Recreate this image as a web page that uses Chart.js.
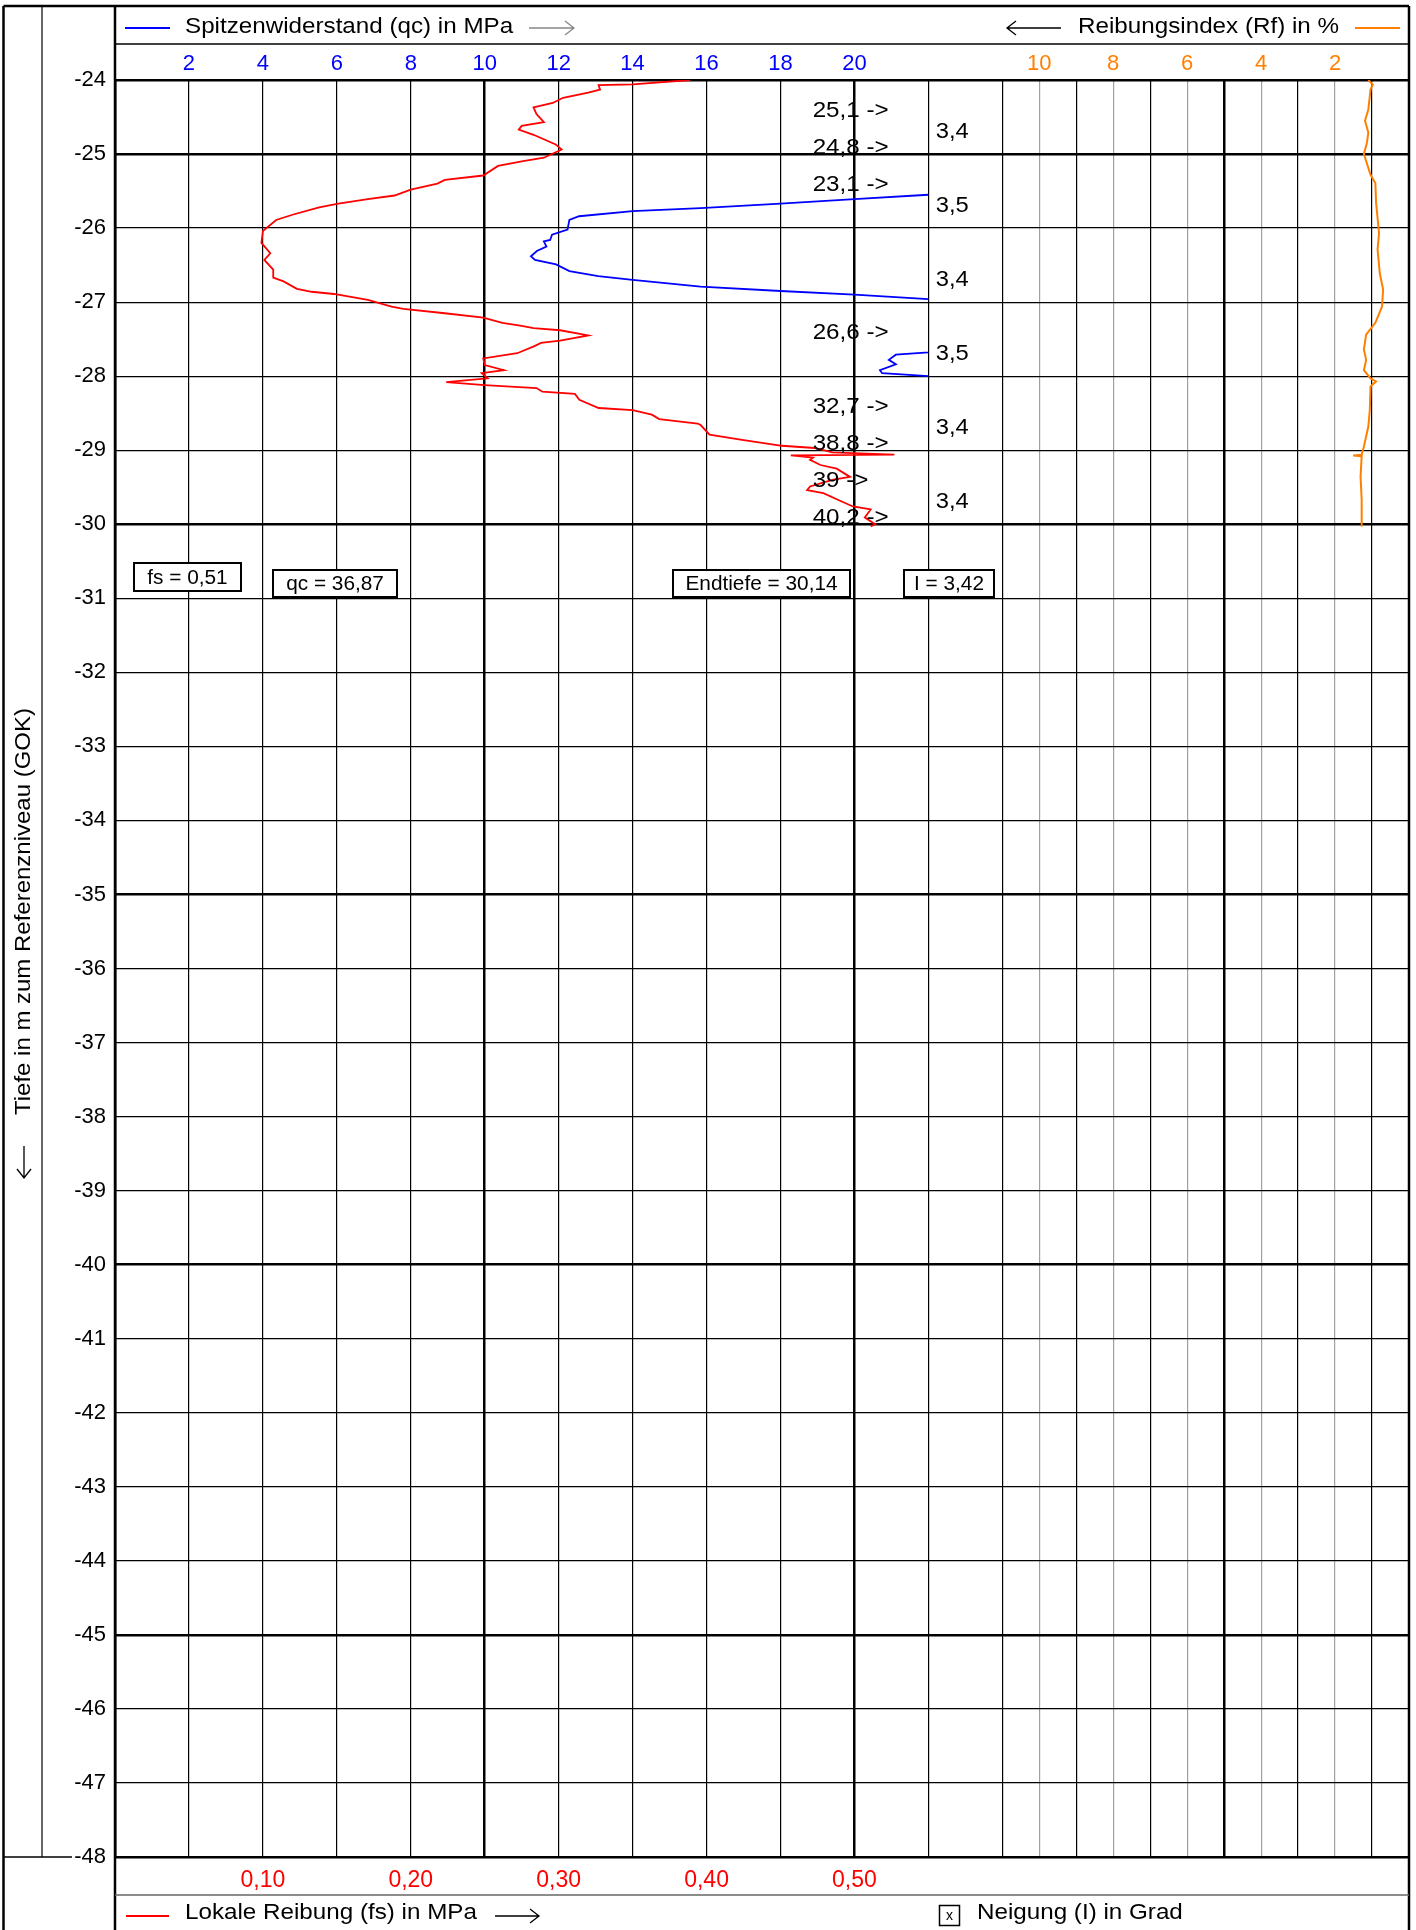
<!DOCTYPE html>
<html>
<head>
<meta charset="utf-8">
<script src="https://cdn.jsdelivr.net/npm/chart.js"></script>
<style>
  body { margin: 0; background: #fff; }
  canvas { display: block; }
</style>
</head>
<body>
<canvas id="cptChart" width="1416" height="1930"></canvas>
<script>
const fsDepth = [-24.00, -24.06, -24.07, -24.13, -24.17, -24.24, -24.31, -24.37, -24.46, -24.57,
  -24.62, -24.67, -24.74, -24.87, -24.94, -25.05, -25.10, -25.16, -25.29, -25.35,
  -25.40, -25.48, -25.56, -25.61, -25.67, -25.72, -25.82, -25.89, -26.04, -26.20,
  -26.34, -26.43, -26.56, -26.67, -26.72, -26.82, -26.86, -26.89, -26.97, -27.06,
  -27.09, -27.15, -27.21, -27.28, -27.32, -27.35, -27.38, -27.45, -27.52, -27.55,
  -27.59, -27.69, -27.76, -27.85, -27.92, -27.96, -28.03, -28.08, -28.12, -28.16,
  -28.21, -28.24, -28.32, -28.43, -28.46, -28.52, -28.58, -28.64, -28.66, -28.79,
  -28.86, -28.94, -28.97, -29.03, -29.06, -29.07, -29.10, -29.13, -29.20, -29.25,
  -29.36, -29.40, -29.49, -29.54, -29.58, -29.69, -29.76, -29.80, -29.91, -30.00, -30.03];
const fsValues = [0.389, 0.350, 0.327, 0.328, 0.320, 0.303, 0.296, 0.283, 0.285, 0.290,
  0.275, 0.273, 0.283, 0.298, 0.302, 0.290, 0.275, 0.259, 0.249, 0.223,
  0.218, 0.200, 0.189, 0.171, 0.151, 0.138, 0.120, 0.109, 0.100, 0.099,
  0.105, 0.101, 0.107, 0.107, 0.114, 0.123, 0.133, 0.148, 0.171, 0.187,
  0.195, 0.223, 0.249, 0.262, 0.275, 0.283, 0.301, 0.320, 0.301, 0.288,
  0.284, 0.272, 0.249, 0.250, 0.263, 0.248, 0.252, 0.224, 0.250, 0.285,
  0.289, 0.311, 0.314, 0.327, 0.350, 0.363, 0.368, 0.394, 0.396, 0.402,
  0.424, 0.451, 0.473, 0.485, 0.527, 0.457, 0.472, 0.470, 0.477, 0.488,
  0.497, 0.485, 0.470, 0.468, 0.479, 0.491, 0.499, 0.511, 0.507, 0.514, 0.511];

const qcDepth = [-24.42, -24.92, -25.42, -25.55, -25.61, -25.67, -25.73, -25.77, -25.84, -25.89,
  -26.02, -26.09, -26.16, -26.18, -26.25, -26.31, -26.38, -26.43, -26.49, -26.58,
  -26.65, -26.70, -26.79, -26.85, -26.90, -26.96, -27.42, -27.68, -27.71, -27.78,
  -27.84, -27.92, -27.96, -28.00, -28.42, -28.92, -29.42, -29.92];
const qcValues = [25.1, 24.8, 23.1, 22.0, 20.0, 18.0, 15.84, 14.0, 12.55, 12.29,
  12.24, 11.82, 11.77, 11.6, 11.67, 11.41, 11.25, 11.36, 11.93, 12.29,
  13.07, 14.0, 15.84, 18.0, 20.0, 22.0, 26.6, 22.0, 21.12, 20.93,
  21.12, 20.69, 20.75, 22.0, 32.7, 38.8, 39.0, 40.2];

const rfDepth = [-24.00, -24.06, -24.13, -24.40, -24.55, -24.71, -24.85, -25.00, -25.28, -25.39,
  -25.66, -26.07, -26.29, -26.61, -26.83, -27.06, -27.28, -27.44, -27.64, -27.78,
  -27.92, -28.03, -28.07, -28.14, -28.46, -28.68, -28.95, -29.06, -29.07, -29.08,
  -29.36, -29.67, -30.03];
const rfValues = [1.10, 0.98, 1.04, 1.10, 1.19, 1.10, 1.14, 1.22, 1.04, 0.91,
  0.89, 0.81, 0.85, 0.79, 0.70, 0.73, 0.91, 1.16, 1.22, 1.16,
  1.22, 1.04, 0.89, 1.04, 1.06, 1.10, 1.22, 1.28, 1.51, 1.28,
  1.31, 1.28, 1.28];

// qc values beyond the drawn range, written as text
const qcNoteDepth = [-24.42, -24.92, -25.42, -27.42, -28.42, -28.92, -29.42, -29.92];
const qcNoteLabels = ["25,1", "24,8", "23,1", "26,6", "32,7", "38,8", "39", "40,2"];

// Neigung per metre
const inclDepth = [-24.7, -25.7, -26.7, -27.7, -28.7, -29.7];
const inclLabels = ["3,4", "3,5", "3,4", "3,5", "3,4", "3,4"];

const summaryLabels = ["fs = 0,51", "qc = 36,87", "Endtiefe = 30,14", "I = 3,42"];

const qcTicks = [2, 4, 6, 8, 10, 12, 14, 16, 18, 20];
const rfTicks = [10, 8, 6, 4, 2];
const fsTicks = [0.1, 0.2, 0.3, 0.4, 0.5];
const depthTicks = [-24, -25, -26, -27, -28, -29, -30, -31, -32, -33, -34, -35, -36,
  -37, -38, -39, -40, -41, -42, -43, -44, -45, -46, -47, -48];

const QC_MAX = 35;      // right edge of the grid (Rf = 0)
const QC_CLIP = 22;     // qc curve is cut here
const FONT = '"Liberation Sans", Arial, sans-serif';

function toPoints(depths, values) {
  return values.map((v, i) => ({ x: v, y: depths[i] }));
}

function arrow(ctx, x1, x2, y, color) {
  const dir = x2 > x1 ? 1 : -1;
  ctx.save();
  ctx.strokeStyle = color;
  ctx.lineWidth = 1.3;
  ctx.beginPath();
  ctx.moveTo(x1, y);
  ctx.lineTo(x2, y);
  ctx.moveTo(x2 - dir * 9, y - 7);
  ctx.lineTo(x2, y);
  ctx.lineTo(x2 - dir * 9, y + 7);
  ctx.stroke();
  ctx.restore();
}

function line(ctx, x1, y1, x2, y2, color, w) {
  ctx.save();
  ctx.strokeStyle = color;
  ctx.lineWidth = w;
  ctx.beginPath();
  ctx.moveTo(x1, y1);
  ctx.lineTo(x2, y2);
  ctx.stroke();
  ctx.restore();
}

// text is a bit wider in the original print, so stretch it horizontally
function text(ctx, str, x, y, size, color, align, sx) {
  ctx.save();
  ctx.translate(x, y);
  ctx.scale(sx || 1.1, 1);
  ctx.font = size + 'px ' + FONT;
  ctx.fillStyle = color;
  ctx.textAlign = align || 'left';
  ctx.textBaseline = 'middle';
  ctx.fillText(str, 0, 0);
  ctx.restore();
}

// clip the qc curve at QC_CLIP
const clipPlugin = {
  id: 'clipQc',
  beforeDatasetDraw(chart, args) {
    if (args.index !== 1) return;
    const a = chart.chartArea;
    const xr = chart.scales.x.getPixelForValue(QC_CLIP);
    chart.ctx.save();
    chart.ctx.beginPath();
    chart.ctx.rect(a.left, a.top, xr - a.left, a.bottom - a.top);
    chart.ctx.clip();
  },
  afterDatasetDraw(chart, args) {
    if (args.index !== 1) return;
    chart.ctx.restore();
  }
};

const framePlugin = {
  id: 'frame',
  afterDraw(chart) {
    const ctx = chart.ctx;
    const a = chart.chartArea;
    const sx = chart.scales.x;
    const sy = chart.scales.y;
    const H = chart.height;

    // outer frame and columns
    line(ctx, 3.5, 6, 3.5, H, '#000', 2.5);
    line(ctx, 3.5, 6, a.right, 6, '#000', 2.5);
    line(ctx, a.right, 6, a.right, H, '#000', 2.5);
    line(ctx, 42, 6, 42, a.bottom, '#000', 1.2);
    line(ctx, a.left, 6, a.left, H, '#000', 2.5);
    line(ctx, 4, a.bottom, 72, a.bottom, '#000', 1.5);
    line(ctx, a.left, 44, a.right, 44, '#000', 1.5);
    line(ctx, a.left, 1895, a.right, 1895, '#666', 1.5);

    // header legends
    line(ctx, 125, 28, 170, 28, '#0000ff', 2);
    text(ctx, 'Spitzenwiderstand (qc) in MPa', 185, 27, 22, '#000');
    arrow(ctx, 529, 574, 28, '#888');
    arrow(ctx, 1061, 1007, 28, '#000');
    text(ctx, 'Reibungsindex (Rf) in %', 1339, 27, 22, '#000', 'right');
    line(ctx, 1355, 28, 1400, 28, '#ff8000', 2);

    // footer legends
    line(ctx, 126, 1916, 169, 1916, '#ff0000', 2);
    text(ctx, 'Lokale Reibung (fs) in MPa', 185, 1913, 22, '#000');
    arrow(ctx, 495, 539, 1916, '#000');
    ctx.save();
    ctx.strokeStyle = '#000';
    ctx.lineWidth = 1.5;
    ctx.strokeRect(939.5, 1905.5, 20, 20);
    ctx.restore();
    text(ctx, 'x', 949.5, 1916, 14, '#000', 'center', 1);
    text(ctx, 'Neigung (I) in Grad', 977, 1913, 22, '#000');

    // vertical axis title
    ctx.save();
    ctx.translate(24, 940);
    ctx.rotate(-Math.PI / 2);
    text(ctx, 'Tiefe in m zum Referenzniveau (GOK)', -175, 0, 22, '#000', 'left', 1.09);
    arrow(ctx, -206, -238, 0, '#000');
    ctx.restore();

    // qc values out of range
    qcNoteDepth.forEach((d, i) => {
      text(ctx, qcNoteLabels[i] + ' ->', sx.getPixelForValue(18.87), sy.getPixelForValue(d), 22, '#000');
    });
    inclDepth.forEach((d, i) => {
      text(ctx, inclLabels[i], sx.getPixelForValue(22.2), sy.getPixelForValue(d), 22, '#000', 'left', 1.08);
    });

    // summary boxes
    const boxes = [[134, 563, 107, 28], [273, 570, 124, 27], [673, 570, 177, 27], [904, 570, 90, 27]];
    boxes.forEach((b, i) => {
      ctx.save();
      ctx.fillStyle = '#fff';
      ctx.fillRect(b[0], b[1], b[2], b[3]);
      ctx.strokeStyle = '#000';
      ctx.lineWidth = 2;
      ctx.strokeRect(b[0], b[1], b[2], b[3]);
      ctx.restore();
      text(ctx, summaryLabels[i], b[0] + b[2] / 2, b[1] + b[3] / 2 + 1, 20, '#000', 'center', 1.04);
    });
  }
};

const gridTicks = [];
for (let v = 0; v <= QC_MAX; v++) gridTicks.push(v);

new Chart(document.getElementById('cptChart').getContext('2d'), {
  type: 'scatter',
  data: {
    datasets: [
      {
        label: 'Lokale Reibung (fs)',
        data: toPoints(fsDepth, fsValues),
        xAxisID: 'xFs',
        borderColor: '#ff0000',
        borderWidth: 1.8,
        showLine: true,
        pointRadius: 0
      },
      {
        label: 'Spitzenwiderstand (qc)',
        data: toPoints(qcDepth, qcValues),
        xAxisID: 'x',
        borderColor: '#0000ff',
        borderWidth: 1.8,
        showLine: true,
        pointRadius: 0
      },
      {
        label: 'Reibungsindex (Rf)',
        data: toPoints(rfDepth, rfValues),
        xAxisID: 'xRf',
        borderColor: '#ff8000',
        borderWidth: 2,
        showLine: true,
        pointRadius: 0
      }
    ]
  },
  options: {
    responsive: false,
    animation: false,
    devicePixelRatio: 1,
    layout: { padding: { left: 42, top: 44, right: 7, bottom: 35 } },
    plugins: { legend: { display: false }, tooltip: { enabled: false } },
    scales: {
      x: {
        type: 'linear',
        position: 'top',
        min: 0,
        max: QC_MAX,
        afterBuildTicks: s => { s.ticks = gridTicks.map(v => ({ value: v })); },
        afterFit: s => { s.height = 36; },
        border: { display: false },
        grid: {
          drawTicks: false,
          color: c => {
            const v = c.tick.value;
            if (v % 2 === 0) return '#000';
            if (v >= 25 && v < QC_MAX) return '#a0a0a0';
            return 'rgba(0,0,0,0)';
          },
          lineWidth: c => ([0, 10, 20, 30].includes(c.tick.value) ? 2.5 : 1.2)
        },
        ticks: {
          autoSkip: false,
          maxRotation: 0,
          padding: 3,
          font: { family: FONT, size: 22 },
          color: c => (c.tick.value <= 20 ? '#0000ff' : '#ff8000'),
          callback: v => {
            if (qcTicks.includes(v)) return String(v);
            if (rfTicks.includes(QC_MAX - v)) return String(QC_MAX - v);
            return '';
          }
        }
      },
      xRf: { type: 'linear', min: 0, max: QC_MAX, reverse: true, display: false },
      xFs: {
        type: 'linear',
        position: 'bottom',
        min: 0,
        max: QC_MAX / 40,
        afterBuildTicks: s => { s.ticks = fsTicks.map(v => ({ value: v })); },
        afterFit: s => { s.height = 38; },
        border: { display: false },
        grid: { display: false, drawTicks: false },
        ticks: {
          autoSkip: false,
          maxRotation: 0,
          padding: 10,
          font: { family: FONT, size: 23 },
          color: '#ff0000',
          callback: v => v.toFixed(2).replace('.', ',')
        }
      },
      y: {
        type: 'linear',
        min: -48,
        max: -24,
        afterBuildTicks: s => { s.ticks = depthTicks.map(v => ({ value: v })); },
        afterFit: s => { s.width = 73; },
        border: { display: false },
        grid: {
          drawTicks: false,
          color: '#000',
          lineWidth: c => (c.tick.value % 5 === 0 || c.tick.value === -24 || c.tick.value === -48 ? 2.5 : 1.2)
        },
        ticks: {
          autoSkip: false,
          padding: 9,
          font: { family: FONT, size: 22 },
          color: '#000',
          callback: v => String(v)
        }
      }
    }
  },
  plugins: [clipPlugin, framePlugin]
});
</script>
</body>
</html>
